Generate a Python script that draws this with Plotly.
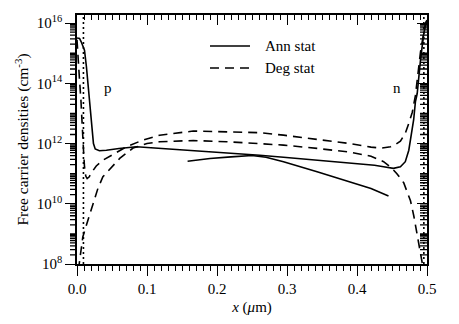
import math
import plotly.graph_objects as go

# ---------------- data ----------------
# Solid ("Ann stat"), long curve
ann1_x = [0.000, 0.0036, 0.006, 0.0107, 0.0135, 0.0160, 0.0189, 0.0210, 0.0235, 0.026, 0.032, 0.042,
          0.060, 0.085, 0.118, 0.166, 0.214, 0.261, 0.295, 0.343, 0.390, 0.425, 0.438, 0.452,
          0.462, 0.469, 0.474, 0.4788, 0.481, 0.4835, 0.486, 0.4907, 0.4954, 0.4989, 0.500]
ann1_y = [3.2e15, 3.1e15, 2.4e15, 1.26e15, 3.5e14, 7.6e13, 1.3e13, 2.8e12, 1.0e12, 6.6e11, 5.8e11, 6.0e11,
          6.9e11, 7.8e11, 6.9e11, 6.0e11, 5.0e11, 4.1e11, 3.5e11, 2.8e11, 2.3e11, 1.9e11, 1.7e11, 1.5e11,
          1.7e11, 2.5e11, 6.0e11, 3.5e12, 6.3e12, 2.5e13, 4.6e13, 5.9e14, 4.6e15, 1.1e16, 1.26e16]

# Solid ("Ann stat"), short curve
ann2_x = [0.158, 0.190, 0.220, 0.250, 0.270, 0.295, 0.343, 0.390, 0.420, 0.445]
ann2_y = [2.6e11, 3.2e11, 3.6e11, 4.0e11, 3.5e11, 2.5e11, 1.15e11, 5.4e10, 3.2e10, 1.8e10]

# Dashed ("Deg stat"), upper U-shaped curve
deg1_x = [0.000, 0.0015, 0.0036, 0.0056, 0.0075, 0.0088, 0.0093, 0.0107, 0.0125, 0.0145, 0.0175,
          0.0203, 0.0275, 0.037, 0.051, 0.0705, 0.094, 0.118, 0.166, 0.214, 0.261, 0.295, 0.343,
          0.390, 0.420, 0.435, 0.448, 0.455, 0.462, 0.469, 0.474, 0.479, 0.4835, 0.486, 0.4907,
          0.4955, 0.498, 0.500]
deg1_y = [2.8e15, 5.9e14, 1.3e14, 2.8e13, 6.0e12, 1.3e12, 6.0e11, 1.7e11, 8.3e10, 6.9e10, 7.9e10,
          1.05e11, 1.8e11, 2.8e11, 4.3e11, 7.8e11, 1.3e12, 1.9e12, 2.6e12, 2.5e12, 2.3e12, 1.9e12, 1.4e12,
          1.0e12, 7.6e11, 7.1e11, 7.8e11, 9.3e11, 1.2e12, 2.2e12, 4.7e12, 1.1e13, 4.0e13, 1.26e14, 1.1e15,
          5.0e15, 1.0e16, 1.26e16]

# Dashed ("Deg stat"), lower cap-shaped curve
deg2_x = [0.002, 0.0036, 0.0083, 0.0155, 0.0226, 0.0298, 0.037, 0.0466, 0.061, 0.080, 0.100, 0.118,
          0.166, 0.214, 0.261, 0.295, 0.343, 0.390, 0.420, 0.438, 0.450, 0.457, 0.4667, 0.4716,
          0.4764, 0.4811, 0.4835, 0.486, 0.489, 0.4907, 0.4931, 0.495]
deg2_y = [6.3e7, 1.35e8, 7.9e8, 2.8e9, 1.0e10, 3.2e10, 7.9e10, 1.4e11, 3.2e11, 7.1e11, 1.0e12, 1.15e12,
          1.26e12, 1.15e12, 1.0e12, 8.9e11, 6.9e11, 5.2e11, 3.8e11, 2.5e11, 1.5e11, 1.0e11, 5.0e10, 2.5e10,
          1.26e10, 4.0e9, 2.0e9, 8.9e8, 4.0e8, 2.2e8, 1.05e8, 6.3e7]

# Dotted vertical boundaries near both contacts
dot_left_x = [0.0092, 0.0092]
dot_right_x = [0.4955, 0.4955]
dot_y = [1e7, 1e17]

# Axis ticks / labels
x_range = [0.0, 0.5]
y_range_log = [8.0, 16.27]
y_major = [1e8, 1e10, 1e12, 1e14, 1e16]
y_major_text = ["10<sup>8</sup>", "10<sup>10</sup>", "10<sup>12</sup>", "10<sup>14</sup>", "10<sup>16</sup>"]
y_minor_mant = [1, 2, 3, 4, 5, 6, 7, 8, 9]
y_minor_exp = list(range(8, 17))

legend_names = ["Ann stat", "Deg stat"]
region_labels = ["p", "n"]
region_x = [0.0445, 0.4577]
region_y_log = [13.84, 13.84]

FONT = "Liberation Serif"
LW = 1.6
SOLID = dict(color="black", width=LW)
DASHED = dict(color="black", width=LW, dash="9px,6px")
DOTTED = dict(color="black", width=LW, dash="2px,3px")

# figure geometry (px)
W, H = 459, 324
ML, MR, MT, MB = 77, 32, 15, 60
PW, PH = W - ML - MR, H - MT - MB

fig = go.Figure()

fig.add_trace(go.Scatter(x=ann1_x, y=ann1_y, mode="lines", name=legend_names[0], line=SOLID,
                         showlegend=False))
fig.add_trace(go.Scatter(x=ann2_x, y=ann2_y, mode="lines", name=legend_names[0], showlegend=False,
                         line=SOLID, xaxis="x2", yaxis="y2"))
fig.add_trace(go.Scatter(x=deg1_x, y=deg1_y, mode="lines", name=legend_names[1], line=DASHED,
                         showlegend=False))
fig.add_trace(go.Scatter(x=deg2_x, y=deg2_y, mode="lines", name=legend_names[1], showlegend=False,
                         line=DASHED))
fig.add_trace(go.Scatter(x=dot_left_x, y=dot_y, mode="lines", showlegend=False, line=DOTTED))
fig.add_trace(go.Scatter(x=dot_right_x, y=dot_y, mode="lines", showlegend=False, line=DOTTED))

for lab, xx, yy in zip(region_labels, region_x, region_y_log):
    fig.add_annotation(x=xx, y=yy, text=lab, showarrow=False,
                       font=dict(family=FONT, size=15, color="black"))

# minor ticks of the log axis: outside on the left, inside on the right (one path per side)
MINOR_LEN = 7
y0, y1 = y_range_log
left_path, right_path = [], []
for k in y_minor_exp:
    for m in y_minor_mant:
        lv = k + math.log10(m)
        if m == 1 and k % 2 == 0:
            continue  # labelled decade: major tick
        if lv > y1:
            continue
        py = MT + PH * (1 - (lv - y0) / (y1 - y0))
        left_path.append(f"M{ML - MINOR_LEN},{py:.2f}H{ML}")
        right_path.append(f"M{ML + PW - MINOR_LEN},{py:.2f}H{ML + PW}")


def px_to_paper(px, py):
    return (px - ML) / PW, (H - MB - py) / PH


# convert pixel paths to paper coordinates
for path_list in (left_path, right_path):
    segs = []
    for seg in path_list:
        a, b = seg[1:].split("H")
        sx, sy = a.split(",")
        xa, ya = px_to_paper(float(sx), float(sy))
        xb, _ = px_to_paper(float(b), float(sy))
        segs.append(f"M{xa:.5f},{ya:.5f}L{xb:.5f},{ya:.5f}")
    fig.add_shape(type="path", xref="paper", yref="paper", path="".join(segs),
                  line=dict(color="black", width=1.3), layer="above")

# in-plot legend (line samples + labels)
leg_px_x0, leg_px_x1, leg_px_text = 210, 250, 263
leg_px_rows = [46, 68]
for name, style, row in zip(legend_names, [SOLID, DASHED], leg_px_rows):
    yp = (H - MB - row) / PH
    fig.add_shape(type="line", xref="paper", yref="paper",
                  x0=(leg_px_x0 - ML) / PW, x1=(leg_px_x1 - ML) / PW, y0=yp, y1=yp, line=style)
    fig.add_annotation(xref="paper", yref="paper", x=(leg_px_text - ML) / PW, y=yp, text=name,
                       showarrow=False, xanchor="left", yanchor="middle",
                       font=dict(family=FONT, size=15, color="black"))

axis_common = dict(showgrid=False, zeroline=False, linecolor="black", linewidth=1.5,
                   tickcolor="black", tickwidth=1.3)
ylog = dict(type="log", range=y_range_log, tickmode="array")

fig.update_layout(
    width=W, height=H,
    margin=dict(l=ML, r=MR, t=MT, b=MB),
    paper_bgcolor="white", plot_bgcolor="white",
    font=dict(family=FONT, size=15, color="black"),
    showlegend=False,
    xaxis=dict(range=x_range, dtick=0.1, tick0=0, tickformat=".1f", ticks="outside", ticklen=10,
               minor=dict(dtick=0.01, tick0=0, ticks="outside", ticklen=5, tickcolor="black", tickwidth=1.3),
               title=dict(text="<i>x</i> (<i>μ</i>m)", standoff=6, font=dict(size=15)),
               tickfont=dict(size=15), **axis_common),
    yaxis=dict(**ylog, tickvals=y_major, ticktext=y_major_text, ticks="outside", ticklen=10,
               title=dict(text="Free carrier densities (cm<sup>-3</sup>)", standoff=4, font=dict(size=15.5)),
               tickfont=dict(size=15), **axis_common),
    xaxis2=dict(overlaying="x", side="top", range=x_range, dtick=0.1, tick0=0, ticks="inside", ticklen=10,
                showticklabels=False,
                minor=dict(dtick=0.01, tick0=0, ticks="inside", ticklen=5, tickcolor="black", tickwidth=1.3),
                **axis_common),
    yaxis2=dict(overlaying="y", side="right", **ylog, tickvals=y_major, ticks="inside", ticklen=10,
                showticklabels=False, **axis_common),
)

fig.write_html("out.html")
